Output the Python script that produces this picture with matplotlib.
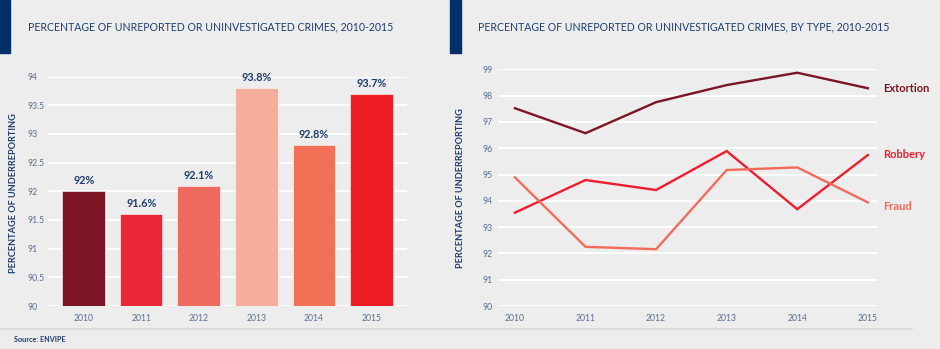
import matplotlib.pyplot as plt
from matplotlib.patches import Rectangle
from matplotlib.lines import Line2D

plt.rcParams['font.family'] = ['Lato', 'DejaVu Sans']

# data
years = ['2010', '2011', '2012', '2013', '2014', '2015']
total_pct = [92.0, 91.6, 92.1, 93.8, 92.8, 93.7]
bar_labels = ['92%', '91.6%', '92.1%', '93.8%', '92.8%', '93.7%']
bar_colors = ['#7b1526', '#eb2638', '#ee6a5f', '#f5ae9c', '#f27055', '#ee1d25']

crime_types = ['Extortion', 'Robbery', 'Fraud']
extortion = [97.52, 96.57, 97.75, 98.4, 98.87, 98.28]
robbery = [93.55, 94.79, 94.41, 95.89, 93.68, 95.74]
fraud = [94.89, 92.25, 92.16, 95.17, 95.27, 93.94]
line_colors = ['#7b1526', '#ee1d2e', '#f26b5b']

BG = '#ecedec'
NAVY = '#1f3d6e'
TICK = '#5b6f93'

W, H = 940, 349
fig = plt.figure(figsize=(W / 100, H / 100), dpi=100, facecolor=BG)


def fx(px):
    return px / W


def fy(py):
    return 1 - py / H


# header accents and footer rule
fig.add_artist(Rectangle((fx(0), fy(53)), fx(10), 53 / H, color='#003067',
                         transform=fig.transFigure))
fig.add_artist(Rectangle((fx(450), fy(53)), fx(11), 53 / H, color='#003067',
                         transform=fig.transFigure))
fig.add_artist(Line2D([0, fx(912)], [fy(329), fy(329)], color='#d6d8d9',
                      lw=1.2, transform=fig.transFigure))

fig.text(fx(28), fy(27), 'PERCENTAGE OF UNREPORTED OR UNINVESTIGATED CRIMES, 2010-2015',
         color=NAVY, fontsize=7.6, va='center', ha='left')
fig.text(fx(478), fy(27), 'PERCENTAGE OF UNREPORTED OR UNINVESTIGATED CRIMES, BY TYPE, 2010-2015',
         color=NAVY, fontsize=7.6, va='center', ha='left')
fig.text(fx(14), fy(339), 'Source: ENVIPE', color=NAVY, fontsize=5.2,
         fontweight='bold', va='center', ha='left')


def style_axes(ax, pad):
    ax.set_facecolor(BG)
    for s in ax.spines.values():
        s.set_visible(False)
    ax.grid(axis='y', color='white', lw=1.4)
    ax.set_axisbelow(True)
    ax.tick_params(axis='both', length=0, colors=TICK, labelsize=6.2)
    ax.tick_params(axis='y', pad=pad)
    ax.tick_params(axis='x', pad=6)
    for lab in ax.get_yticklabels():
        lab.set_ha('left')


# left: bar chart
ax1 = fig.add_axes([fx(48), fy(306), fx(407 - 48), (306 - 76.5) / H])
x = range(len(years))
ax1.bar(x, total_pct, width=0.74, color=bar_colors, edgecolor='white',
        linewidth=0.4)
ax1.set_ylim(90, 94)
ax1.set_xlim(-0.62, 5.62)
ax1.set_xticks(list(x))
ax1.set_xticklabels(years)
yt = [90, 90.5, 91, 91.5, 92, 92.5, 93, 93.5, 94]
ax1.set_yticks(yt)
ax1.set_yticklabels(['90', '90.5', '91', '91.5', '92', '92.5', '93', '93.5', '94'])
style_axes(ax1, 15)
for i, v in enumerate(total_pct):
    ax1.annotate(bar_labels[i], (i, v), xytext=(0, 3.5), textcoords='offset points',
                 ha='center', va='bottom', fontsize=7.8, fontweight='bold',
                 color=NAVY, annotation_clip=False)
ax1.set_ylabel('PERCENTAGE OF UNDERREPORTING', fontsize=6.6, fontweight='bold',
               color=NAVY)
ax1.yaxis.set_label_coords((18.5 - 48) / (407 - 48), 0.49)

# right: line chart
ax2 = fig.add_axes([fx(498), fy(306), fx(877 - 498), (306 - 69.3) / H])
series = [extortion, robbery, fraud]
for name, vals, c in zip(crime_types, series, line_colors):
    ax2.plot(range(len(years)), vals, color=c, lw=1.7, solid_joinstyle='miter')
ax2.set_ylim(90, 99)
ax2.set_xlim(-0.24, 5.13)
ax2.set_xticks(range(len(years)))
ax2.set_xticklabels(years)
ax2.set_yticks(range(90, 100))
ax2.set_yticklabels([str(v) for v in range(90, 100)])
style_axes(ax2, 11.5)
label_y = {'Extortion': 98.28, 'Robbery': 95.75, 'Fraud': 93.8}
for name, c in zip(crime_types, line_colors):
    ax2.text(5.22, label_y[name], name, color=c, fontsize=8, fontweight='bold',
             va='center', ha='left', clip_on=False)
ax2.set_ylabel('PERCENTAGE OF UNDERREPORTING', fontsize=6.6, fontweight='bold',
               color=NAVY)
ax2.yaxis.set_label_coords((465 - 498) / (877 - 498), 0.5)

fig.savefig('out.png', dpi=100, facecolor=BG)
